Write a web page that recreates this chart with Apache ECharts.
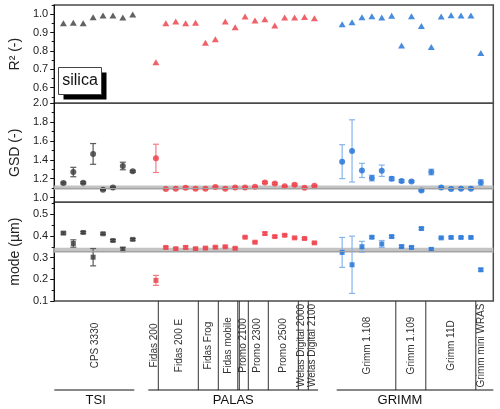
<!DOCTYPE html>
<html>
<head>
<meta charset="utf-8">
<script src="https://cdn.jsdelivr.net/npm/echarts@6/dist/echarts.min.js"></script>
<style>
  html, body { margin: 0; padding: 0; background: #fff; }
  #main { width: 500px; height: 409px; }
</style>
</head>
<body>
<div id="main"></div>
<script>
// x positions of the instruments (one slot = one unit)
const xTsi = [1, 2, 3, 4, 5, 6, 7, 8];
const xPalas = [10.34, 11.34, 12.34, 13.34, 14.34, 15.34, 16.34, 17.34, 18.34, 19.34, 20.34, 21.34, 22.34, 23.34, 24.34, 25.34, 26.34];
const xGrimm = [29.14, 30.14, 31.14, 32.14, 33.14, 34.14, 35.14, 36.14, 37.14, 38.14, 39.14, 40.14, 41.14, 42.14, 43.14];

// R2
const tsiR2 = [0.951, 0.954, 0.951, 0.983, 0.993, 0.993, 0.982, 0.998];
const palasR2 = [0.738, 0.951, 0.960, 0.951, 0.954, 0.845, 0.863, 0.960, 0.929, 0.987, 0.965, 0.972, 0.938, 0.982, 0.982, 0.985, 0.978];
const grimmR2 = [0.945, 0.956, 0.983, 0.989, 0.982, 0.991, 0.830, 0.989, 0.936, 0.821, 0.987, 0.994, 0.993, 0.993, 0.789];

// GSD + error
const tsiGsd = [1.154, 1.271, 1.157, 1.463, 1.082, 1.107, 1.335, 1.278];
const tsiGsdErr = [0.01, 0.05, 0.01, 0.11, 0.005, 0.005, 0.04, 0.01];
const palasGsd = [1.416, 1.090, 1.093, 1.104, 1.093, 1.093, 1.111, 1.093, 1.107, 1.107, 1.114, 1.160, 1.149, 1.121, 1.135, 1.104, 1.125];
const palasGsdErr = [0.15, 0.005, 0.005, 0.01, 0.005, 0.005, 0.01, 0.005, 0.005, 0.005, 0.005, 0.01, 0.01, 0.005, 0.01, 0.005, 0.005];
const grimmGsd = [1.381, 1.495, 1.288, 1.207, 1.285, 1.200, 1.175, 1.171, 1.075, 1.271, 1.107, 1.090, 1.093, 1.093, 1.160];
const grimmGsdErr = [0.18, 0.33, 0.075, 0.03, 0.06, 0.02, 0.015, 0.01, 0.005, 0.03, 0.005, 0.005, 0.005, 0.005, 0.03];

// mode + error
const tsiMode = [0.413, 0.365, 0.416, 0.302, 0.410, 0.379, 0.338, 0.384];
const tsiModeErr = [0.005, 0.017, 0.004, 0.04, 0.004, 0.004, 0.01, 0.004];
const palasMode = [0.195, 0.347, 0.341, 0.347, 0.341, 0.344, 0.348, 0.350, 0.343, 0.394, 0.371, 0.411, 0.397, 0.403, 0.391, 0.388, 0.368];
const palasModeErr = [0.023, 0.004, 0.004, 0.006, 0.004, 0.004, 0.004, 0.004, 0.004, 0.004, 0.004, 0.006, 0.004, 0.004, 0.004, 0.004, 0.004];
const grimmMode = [0.324, 0.267, 0.350, 0.394, 0.363, 0.397, 0.351, 0.347, 0.434, 0.338, 0.391, 0.393, 0.393, 0.393, 0.244];
const grimmModeErr = [0.069, 0.132, 0.025, 0.005, 0.016, 0.005, 0.005, 0.005, 0.005, 0.006, 0.004, 0.004, 0.004, 0.004, 0.006];

// reference bands (silica)
const gsdRef = 1.105, gsdRefHalf = 0.023;
const modeRef = 0.334, modeRefHalf = 0.011;

// instrument names under the axis
const instNames = ['CPS 3330', 'Fidas 200', 'Fidas 200 E', 'Fidas Frog', 'Fidas mobile', 'Promo 2100', 'Promo 2300', 'Promo 2500',
	'Welas Digital 2000', 'Welas Digital 2100', 'Grimm 1.108', 'Grimm 1.109', 'Grimm 11D', 'Grimm mini WRAS'];
const instX = [4.57, 10.47, 12.97, 15.94, 17.94, 19.4, 20.8, 23.4, 25.24, 26.27, 31.84, 36.17, 40.17, 43.24];
const dividerX = [10.9, 14.9, 16.9, 18.85, 19.0, 19.9, 21.9, 24.9, 25.9, 34.65, 37.65, 42.65];

// manufacturers
const groupNames = ['TSI', 'PALAS', 'GRIMM'];
const groupFrom = [0.5, 9.9, 28.74];
const groupTo = [8.5, 26.87, 44.4];
const groupLabelX = [4.64, 18.4, 35.07];

const X_MIN = 0.07, X_MAX = 44.4;
const FONT = 'Liberation Sans, Arial, sans-serif';

const colors = { tsi: '#3b3b3b', palas: '#ee3a43', grimm: '#1c6fd6' };
const errColors = { tsi: '#5a5a5a', palas: '#f27d83', grimm: '#86b4ee' };

function zip(xs, ys, es) {
	return xs.map((x, i) => es ? [x, ys[i], es[i]] : [x, ys[i]]);
}

// 误差线
function errRender(params, api) {
	const x = api.value(0), y = api.value(1), e = api.value(2);
	const hi = api.coord([x, y + e]);
	const lo = api.coord([x, y - e]);
	const style = { stroke: api.visual('color'), lineWidth: 1.2 };
	return {
		type: 'group',
		children: [
			{ type: 'line', shape: { x1: hi[0], y1: hi[1], x2: lo[0], y2: lo[1] }, style },
			{ type: 'line', shape: { x1: hi[0] - 3, y1: hi[1], x2: hi[0] + 3, y2: hi[1] }, style },
			{ type: 'line', shape: { x1: lo[0] - 3, y1: lo[1], x2: lo[0] + 3, y2: lo[1] }, style }
		]
	};
}

const grids = [
	{ left: 50, right: 6.7, top: 5, height: 98.3 },
	{ left: 50, right: 6.7, top: 103.3, height: 99 },
	{ left: 50, right: 6.7, top: 202.3, height: 98.7 },
	{ left: 50, right: 6.7, top: 301, height: 89 }
].map((g, i) => Object.assign({
	show: i < 3, borderColor: '#4a4a4a', borderWidth: 1.5, backgroundColor: 'transparent'
}, g));

const xAxes = [0, 1, 2, 3].map(i => ({
	type: 'value', gridIndex: i, min: X_MIN, max: X_MAX, show: false
}));

function makeY(gridIndex, min, max, major, minor, name) {
	const main = {
		type: 'value', gridIndex, min, max,
		name, nameLocation: 'middle', nameGap: 30,
		nameTextStyle: { fontFamily: FONT, fontSize: 14, color: '#222' },
		axisLine: { show: true, lineStyle: { color: '#111', width: 1 } },
		axisTick: { show: true, length: 4, customValues: major, lineStyle: { color: '#111' } },
		axisLabel: {
			customValues: major, fontFamily: FONT, fontSize: 11, color: '#222', margin: 6,
			formatter: v => v.toFixed(1)
		},
		splitLine: { show: false }
	};
	const sub = {
		type: 'value', gridIndex, min, max, position: 'left',
		axisLine: { show: false },
		axisTick: { show: true, length: 2.5, customValues: minor, lineStyle: { color: '#111' } },
		axisLabel: { show: false },
		splitLine: { show: false }
	};
	return [main, sub];
}

const yAxes = [].concat(
	makeY(0, 0.515, 1.05, [0.6, 0.7, 0.8, 0.9, 1.0], [0.55, 0.65, 0.75, 0.85, 0.95, 1.05], 'R\u00b2 (-)'),
	makeY(1, 0.95, 2.0, [1.0, 1.2, 1.4, 1.6, 1.8, 2.0], [1.1, 1.3, 1.5, 1.7, 1.9], 'GSD (-)'),
	makeY(2, 0.1, 0.555, [0.1, 0.2, 0.3, 0.4, 0.5], [0.15, 0.25, 0.35, 0.45, 0.55], 'mode (\u00b5m)'),
	[{ type: 'value', gridIndex: 3, min: 0, max: 1, show: false }]
);

const series = [];

// reference bands
[[1, 2, gsdRef, gsdRefHalf], [2, 4, modeRef, modeRefHalf]].forEach(([xi, yi, ref, half]) => {
	series.push({
		type: 'line', xAxisIndex: xi, yAxisIndex: yi, data: [], silent: true, z: 1,
		markArea: {
			silent: true,
			itemStyle: { color: '#c3c3c3' },
			data: [[{ yAxis: ref - half }, { yAxis: ref + half }]]
		},
		markLine: {
			silent: true, symbol: 'none', label: { show: false },
			lineStyle: { color: '#a3a3a3', type: 'solid', width: 1 },
			data: [{ yAxis: ref }]
		}
	});
});

const groups = [
	{ key: 'tsi', x: xTsi, r2: tsiR2, gsd: tsiGsd, gsdErr: tsiGsdErr, mode: tsiMode, modeErr: tsiModeErr },
	{ key: 'palas', x: xPalas, r2: palasR2, gsd: palasGsd, gsdErr: palasGsdErr, mode: palasMode, modeErr: palasModeErr },
	{ key: 'grimm', x: xGrimm, r2: grimmR2, gsd: grimmGsd, gsdErr: grimmGsdErr, mode: grimmMode, modeErr: grimmModeErr }
];

groups.forEach(g => {
	const c = colors[g.key];
	series.push({
		type: 'scatter', xAxisIndex: 0, yAxisIndex: 0, symbol: 'triangle', symbolSize: [7, 6],
		itemStyle: { color: c }, data: zip(g.x, g.r2), z: 3
	});
	series.push({
		type: 'custom', xAxisIndex: 1, yAxisIndex: 2, renderItem: errRender,
		itemStyle: { color: errColors[g.key] }, data: zip(g.x, g.gsd, g.gsdErr), z: 2
	});
	series.push({
		type: 'scatter', xAxisIndex: 1, yAxisIndex: 2, symbol: 'circle', symbolSize: 6,
		itemStyle: { color: c }, data: zip(g.x, g.gsd), z: 3
	});
	series.push({
		type: 'custom', xAxisIndex: 2, yAxisIndex: 4, renderItem: errRender,
		itemStyle: { color: errColors[g.key] }, data: zip(g.x, g.mode, g.modeErr), z: 2
	});
	series.push({
		type: 'scatter', xAxisIndex: 2, yAxisIndex: 4, symbol: 'rect', symbolSize: 5,
		itemStyle: { color: c }, data: zip(g.x, g.mode), z: 3
	});
});

// dividers between instruments
series.push({
	type: 'custom', xAxisIndex: 3, yAxisIndex: 6, silent: true,
	data: dividerX.map(x => [x]),
	renderItem: (params, api) => {
		const top = api.coord([api.value(0), 1]);
		const bot = api.coord([api.value(0), 0]);
		return { type: 'line', shape: { x1: top[0], y1: top[1], x2: bot[0], y2: bot[1] }, style: { stroke: '#333', lineWidth: 1 } };
	}
});

// instrument names (rotated)
series.push({
	type: 'custom', xAxisIndex: 3, yAxisIndex: 6, silent: true,
	data: instX.map((x, i) => [x, instNames[i]]),
	renderItem: (params, api) => {
		const p = api.coord([api.value(0), 0.5]);
		return {
			type: 'text', x: p[0], y: p[1], rotation: Math.PI / 2,
			style: { text: instNames[params.dataIndex], fontFamily: FONT, fontSize: 10, fill: '#333', align: 'center', verticalAlign: 'middle' }
		};
	}
});

// manufacturer lines + names
series.push({
	type: 'custom', xAxisIndex: 3, yAxisIndex: 6, silent: true, clip: false,
	data: groupNames.map((n, i) => [groupFrom[i], groupTo[i], groupLabelX[i]]),
	renderItem: (params, api) => {
		const a = api.coord([api.value(0), 0]);
		const b = api.coord([api.value(1), 0]);
		const t = api.coord([api.value(2), 0]);
		return {
			type: 'group',
			children: [
				{ type: 'line', shape: { x1: a[0], y1: a[1], x2: b[0], y2: b[1] }, style: { stroke: '#111', lineWidth: 1 } },
				{ type: 'text', x: t[0], y: t[1] + 10, style: { text: groupNames[params.dataIndex], fontFamily: FONT, fontSize: 13, fill: '#111', align: 'center', verticalAlign: 'middle' } }
			]
		};
	}
});

const chart = echarts.init(document.getElementById('main'), null, { renderer: 'canvas' });
chart.setOption({
	animation: false,
	backgroundColor: '#fff',
	grid: grids,
	xAxis: xAxes,
	yAxis: yAxes,
	series,
	graphic: [{
		type: 'group', left: 58, top: 67,
		children: [
			{ type: 'rect', shape: { x: 5, y: 5, width: 43, height: 27 }, style: { fill: '#000' } },
			{ type: 'rect', shape: { x: 0, y: 0, width: 43, height: 27 }, style: { fill: '#fff', stroke: '#444', lineWidth: 1 } },
			{ type: 'text', x: 21.5, y: 13.5, style: { text: 'silica', fontFamily: FONT, fontSize: 16, fill: '#111', align: 'center', verticalAlign: 'middle' } }
		]
	}]
});
</script>
</body>
</html>
